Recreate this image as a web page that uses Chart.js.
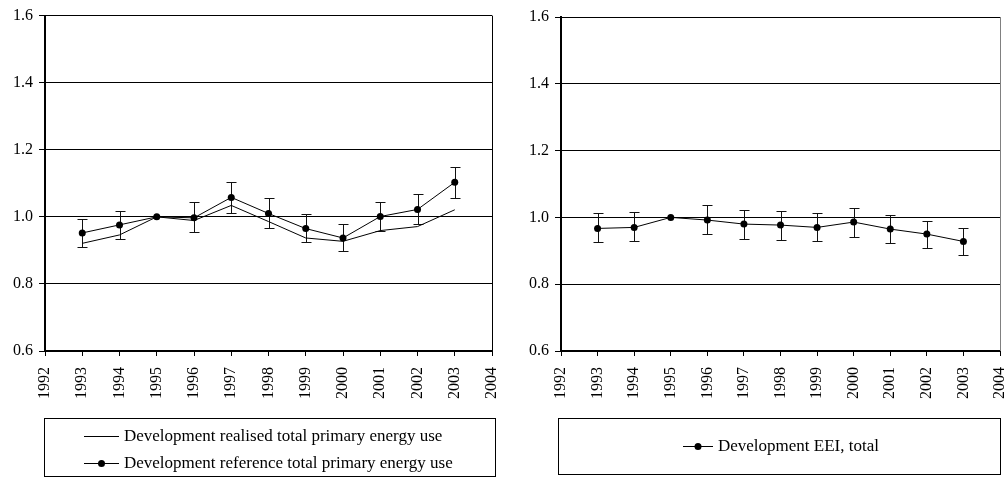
<!DOCTYPE html>
<html>
<head>
<meta charset="utf-8">
<script src="https://cdn.jsdelivr.net/npm/chart.js@4.4.1/dist/chart.umd.min.js"></script>
<style>
  html, body { margin: 0; padding: 0; background: #fff; }
  body { width: 1008px; height: 477px; position: relative; overflow: hidden; }
  canvas { position: absolute; top: 0; }
  #leftChart { left: 0; }
  #rightChart { left: 500px; }
</style>
</head>
<body>
<canvas id="leftChart" width="500" height="477"></canvas>
<canvas id="rightChart" width="508" height="477"></canvas>
<script>
// Axis ticks
const xTicks = [1992, 1993, 1994, 1995, 1996, 1997, 1998, 1999, 2000, 2001, 2002, 2003, 2004];
const yTicks = [0.6, 0.8, 1.0, 1.2, 1.4, 1.6];

// Years with observations
const years = [1993, 1994, 1995, 1996, 1997, 1998, 1999, 2000, 2001, 2002, 2003];

// Left panel: primary energy use indices (1995 = 1)
const realised  = [0.921, 0.946, 1.000, 0.989, 1.034, 0.986, 0.937, 0.927, 0.959, 0.971, 1.021];
const reference = [0.952, 0.976, 1.000, 0.997, 1.058, 1.010, 0.965, 0.937, 1.001, 1.022, 1.103];
const referenceErrUp   = [0.041, 0.042, 0, 0.046, 0.045, 0.045, 0.044, 0.042, 0.042, 0.045, 0.047];
const referenceErrDown = [0.043, 0.043, 0, 0.042, 0.046, 0.043, 0.041, 0.039, 0.042, 0.043, 0.046];

// Right panel: energy efficiency index, total
const eei = [0.967, 0.970, 1.000, 0.992, 0.980, 0.977, 0.970, 0.986, 0.965, 0.950, 0.928];
const eeiErrUp   = [0.046, 0.045, 0, 0.045, 0.042, 0.041, 0.043, 0.041, 0.041, 0.040, 0.039];
const eeiErrDown = [0.042, 0.042, 0, 0.043, 0.044, 0.044, 0.042, 0.044, 0.043, 0.041, 0.040];

const labelRealised  = 'Development realised total primary energy use';
const labelReference = 'Development reference total primary energy use';
const labelEei       = 'Development EEI, total';

const FONT = '"Liberation Serif", "Times New Roman", serif';
const toPoints = vals => years.map((yr, i) => ({ x: yr, y: vals[i] }));

// Vertical error bars with caps, drawn beneath the markers
const errorBars = {
  id: 'errorBars',
  beforeDatasetsDraw(chart) {
    const { ctx } = chart;
    const xs = chart.scales.x, ys = chart.scales.y;
    chart.data.datasets.forEach(ds => {
      if (!ds.errUp) return;
      ctx.save();
      ctx.strokeStyle = '#111';
      ctx.lineWidth = 1;
      ds.data.forEach((p, i) => {
        const up = ds.errUp[i], dn = ds.errDown[i];
        if (!up && !dn) return;
        const x = Math.round(xs.getPixelForValue(p.x)) + 0.5;
        const y1 = Math.round(ys.getPixelForValue(p.y + up)) + 0.5;
        const y2 = Math.round(ys.getPixelForValue(p.y - dn)) + 0.5;
        ctx.beginPath();
        ctx.moveTo(x, y1); ctx.lineTo(x, y2);
        ctx.moveTo(x - 5, y1); ctx.lineTo(x + 5, y1);
        ctx.moveTo(x - 5, y2); ctx.lineTo(x + 5, y2);
        ctx.stroke();
      });
      ctx.restore();
    });
  }
};

// Right-hand edge of the plot frame
const plotFrame = {
  id: 'plotFrame',
  afterDraw(chart, args, opts) {
    const { ctx, chartArea: a } = chart;
    ctx.save();
    ctx.strokeStyle = opts.color || '#000';
    ctx.lineWidth = 1;
    const x = Math.round(a.right) + 0.5;
    ctx.beginPath();
    ctx.moveTo(x, a.top);
    ctx.lineTo(x, a.bottom);
    ctx.stroke();
    ctx.restore();
  }
};

// Boxed legend below the plot
const boxLegend = {
  id: 'boxLegend',
  afterDraw(chart, args, opts) {
    const { ctx } = chart;
    const b = opts.box;
    ctx.save();
    ctx.strokeStyle = '#000';
    ctx.lineWidth = 1;
    ctx.strokeRect(b.left + 0.5, b.top + 0.5, b.right - b.left, b.bottom - b.top);
    ctx.font = '17px ' + FONT;
    ctx.fillStyle = '#000';
    ctx.textBaseline = 'middle';
    ctx.textAlign = 'left';
    opts.items.forEach(item => {
      const ds = chart.data.datasets[item.dataset];
      const y = Math.round(item.y) + 0.5;
      ctx.beginPath();
      ctx.strokeStyle = '#000';
      ctx.lineWidth = 1;
      ctx.moveTo(item.lineFrom, y);
      ctx.lineTo(item.lineTo, y);
      ctx.stroke();
      if (ds.pointRadius > 0) {
        ctx.beginPath();
        ctx.arc((item.lineFrom + item.lineTo) / 2, y, ds.pointRadius, 0, Math.PI * 2);
        ctx.fill();
      }
      ctx.fillText(ds.label, item.textX, item.y + 1);
    });
    ctx.restore();
  }
};

function scalesConfig(yWidth) {
  return {
    x: {
      type: 'linear',
      min: xTicks[0],
      max: xTicks[xTicks.length - 1],
      afterBuildTicks: s => { s.ticks = xTicks.map(v => ({ value: v })); },
      afterFit: s => { s.height = 50; s.paddingLeft = 0; s.paddingRight = 0; },
      ticks: {
        autoSkip: false, minRotation: 90, maxRotation: 90,
        font: { family: FONT, size: 16 }, color: '#000', padding: 11,
        callback: v => String(v)
      },
      grid: { display: true, drawOnChartArea: false, drawTicks: true, tickLength: 5, color: '#000', lineWidth: 1 },
      border: { display: true, color: '#000', width: 2 }
    },
    y: {
      type: 'linear',
      min: yTicks[0],
      max: yTicks[yTicks.length - 1],
      afterBuildTicks: s => { s.ticks = yTicks.map(v => ({ value: v })); },
      afterFit: s => { s.width = yWidth; },
      ticks: {
        font: { family: FONT, size: 16 }, color: '#000', padding: 6,
        callback: v => Number(v).toFixed(1)
      },
      grid: { color: '#000', lineWidth: 1, tickLength: 6, drawTicks: true },
      border: { display: true, color: '#000', width: 2 }
    }
  };
}

const common = {
  responsive: false,
  animation: false,
  devicePixelRatio: 1,
  events: [],
  elements: { line: { tension: 0 } }
};

new Chart(document.getElementById('leftChart'), {
  type: 'line',
  data: {
    datasets: [
      {
        label: labelRealised,
        data: toPoints(realised),
        borderColor: '#000', borderWidth: 1,
        pointRadius: 0
      },
      {
        label: labelReference,
        data: toPoints(reference),
        errUp: referenceErrUp, errDown: referenceErrDown,
        borderColor: '#000', borderWidth: 1,
        pointRadius: 3.5, pointBackgroundColor: '#000', pointBorderColor: '#000', pointBorderWidth: 0
      }
    ]
  },
  options: Object.assign({}, common, {
    layout: { padding: { left: 0, right: 8, top: 15, bottom: 76 } },
    scales: scalesConfig(45),
    plugins: {
      legend: { display: false },
      tooltip: { enabled: false },
      plotFrame: { color: '#000' },
      boxLegend: {
        box: { left: 44, top: 418, right: 495, bottom: 476 },
        items: [
          { dataset: 0, y: 436, lineFrom: 84, lineTo: 119, textX: 124 },
          { dataset: 1, y: 463, lineFrom: 84, lineTo: 119, textX: 124 }
        ]
      }
    }
  }),
  plugins: [errorBars, plotFrame, boxLegend]
});

new Chart(document.getElementById('rightChart'), {
  type: 'line',
  data: {
    datasets: [
      {
        label: labelEei,
        data: toPoints(eei),
        errUp: eeiErrUp, errDown: eeiErrDown,
        borderColor: '#000', borderWidth: 1,
        pointRadius: 3.5, pointBackgroundColor: '#000', pointBorderColor: '#000', pointBorderWidth: 0
      }
    ]
  },
  options: Object.assign({}, common, {
    layout: { padding: { left: 16, right: 8, top: 17, bottom: 76 } },
    scales: scalesConfig(45),
    plugins: {
      legend: { display: false },
      tooltip: { enabled: false },
      plotFrame: { color: '#808080' },
      boxLegend: {
        box: { left: 58, top: 418, right: 500, bottom: 474 },
        items: [
          { dataset: 0, y: 446, lineFrom: 183, lineTo: 213, textX: 218 }
        ]
      }
    }
  }),
  plugins: [errorBars, plotFrame, boxLegend]
});
</script>
</body>
</html>
